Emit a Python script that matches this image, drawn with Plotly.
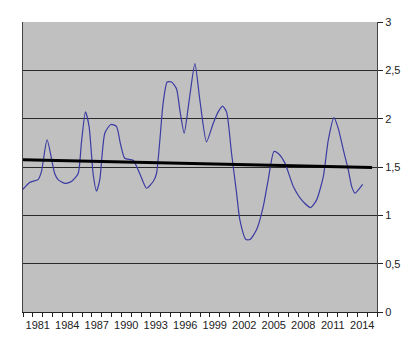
import plotly.graph_objects as go

# Blue series: fractional year, value
years = [1979.50, 1980.18, 1981.03, 1981.37, 1981.95, 1982.73, 1983.07, 1983.75, 1984.42,
         1985.10, 1985.44, 1985.85, 1986.22, 1986.63, 1986.97, 1987.31, 1987.82, 1988.43,
         1989.00, 1989.41, 1989.85, 1990.70, 1991.38, 1992.06, 1992.74, 1993.07, 1993.75,
         1994.16, 1994.60, 1995.11, 1995.45, 1995.89, 1996.40, 1996.98, 1997.49, 1998.16,
         1998.84, 1999.35, 1999.79, 2000.20, 2000.71, 2001.22, 2001.56, 2002.17, 2002.58,
         2003.25, 2003.93, 2004.44, 2005.02, 2005.46, 2006.14, 2006.98, 2007.83, 2008.75,
         2009.36, 2010.04, 2010.55, 2011.12, 2011.56, 2012.07, 2012.58, 2012.92, 2013.26,
         2014.04]
values = [1.27, 1.34, 1.37, 1.45, 1.78, 1.43, 1.37, 1.33, 1.35,
          1.43, 1.75, 2.07, 1.92, 1.43, 1.25, 1.37, 1.85, 1.94,
          1.92, 1.74, 1.59, 1.57, 1.43, 1.28, 1.35, 1.43, 2.16,
          2.38, 2.38, 2.31, 2.09, 1.85, 2.19, 2.57, 2.19, 1.76,
          1.95, 2.07, 2.13, 2.07, 1.64, 1.23, 0.95, 0.75, 0.75,
          0.85, 1.09, 1.37, 1.66, 1.64, 1.54, 1.30, 1.16, 1.08,
          1.16, 1.40, 1.78, 2.01, 1.90, 1.68, 1.47, 1.30, 1.23,
          1.32]

# Trend line
trend_years = [1979.5, 2015.0]
trend_values = [1.575, 1.495]

# Axis labels
x_tick_years = list(range(1981, 2015, 3))
y_tick_vals = [0, 0.5, 1, 1.5, 2, 2.5, 3]
y_tick_text = ["0", "0,5", "1", "1,5", "2", "2,5", "3"]

fig = go.Figure()
fig.add_trace(go.Scatter(x=years, y=values, mode="lines",
                         line=dict(color="#3b3ba3", width=1.2, shape="spline", smoothing=0.6),
                         hoverinfo="skip"))
fig.add_trace(go.Scatter(x=trend_years, y=trend_values, mode="lines",
                         line=dict(color="#000000", width=3.2), hoverinfo="skip"))

fig.update_layout(
    width=411, height=344,
    margin=dict(l=23, r=34, t=22, b=32),
    paper_bgcolor="white", plot_bgcolor="#c0c0c0",
    showlegend=False,
    font=dict(family="Liberation Sans, Arial, sans-serif", size=11, color="#222"),
)
fig.update_xaxes(
    range=[1979.5, 2015.5], showgrid=False, zeroline=False,
    tickmode="array", tickvals=x_tick_years, ticktext=[str(y) for y in x_tick_years],
    ticks="outside", ticklen=3, tickcolor="rgba(0,0,0,0)",
    showline=True, linecolor="#222", linewidth=1,
    minor=dict(tickmode="array", tickvals=[y + 0.5 for y in range(1979, 2016)],
               ticks="outside", ticklen=4, tickcolor="#222", tickwidth=1, showgrid=False),
)
fig.update_yaxes(
    range=[0, 3], side="right", zeroline=False,
    tickmode="array", tickvals=y_tick_vals, ticktext=y_tick_text,
    ticks="outside", ticklen=5, tickcolor="#222",
    showgrid=True, gridcolor="#2a2a2a", gridwidth=1,
    showline=True, linecolor="#444", linewidth=1, mirror=True,
)
fig.write_html("out.html")
